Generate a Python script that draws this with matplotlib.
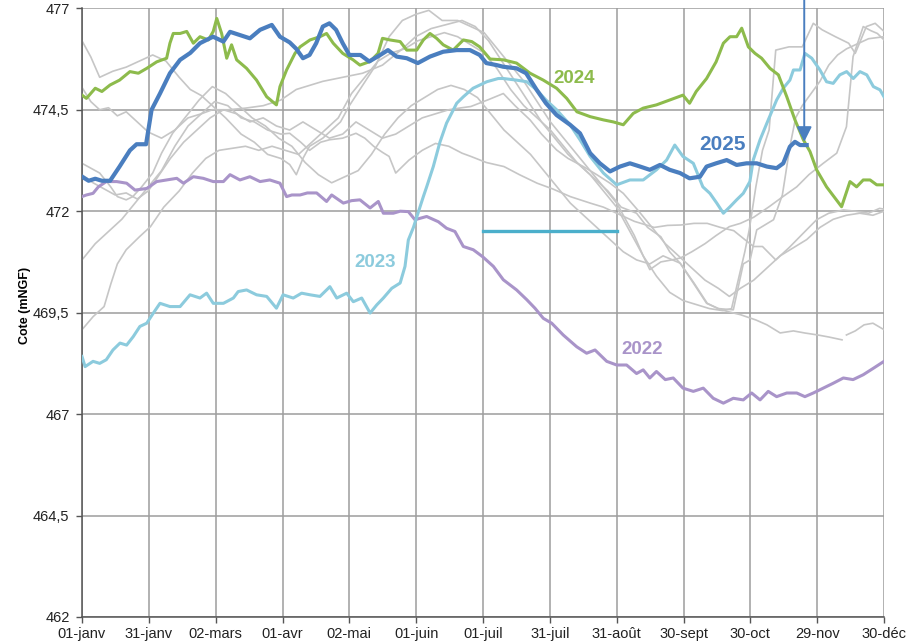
import numpy as np
import matplotlib
matplotlib.use("Agg")
import matplotlib.pyplot as plt

plt.rcParams['font.family'] = ['Liberation Sans Narrow', 'Liberation Sans', 'DejaVu Sans']

# axis ticks
x_ticks = np.linspace(0, 363, 13)
x_labels = ["01-janv", "31-janv", "02-mars", "01-avr", "02-mai", "01-juin", "01-juil",
            "31-juil", "31-août", "30-sept", "30-oct", "29-nov", "30-déc"]
y_ticks = [462, 464.5, 467, 469.5, 472, 474.5, 477]
y_labels = ["462", "464,5", "467", "469,5", "472", "474,5", "477"]

# (jour de l'année, cote)
y2025 = [(0, 472.85), (3, 472.75), (6, 472.8), (9, 472.75), (12.7, 472.75), (17, 473.1), (21.7, 473.5),
         (24.7, 473.65), (29, 473.65), (31.5, 474.5), (35.3, 474.9), (39.8, 475.4), (44.4, 475.73),
         (49, 475.9), (53.4, 476.14), (59.3, 476.3), (64, 476.18), (67, 476.42), (71.5, 476.34),
         (76, 476.26), (80.6, 476.47), (85.9, 476.59), (89.6, 476.3), (94, 476.16), (97, 476.0),
         (100, 475.77), (103, 475.85), (106, 476.14), (109, 476.55), (112, 476.63), (115, 476.47),
         (118, 476.14), (121, 475.85), (126, 475.85), (130, 475.69), (135, 475.85), (138.5, 475.97),
         (142.4, 475.81), (147, 475.77), (152, 475.65), (157.5, 475.81), (163.5, 475.93), (169.6, 475.97),
         (175.6, 475.97), (180, 475.85), (183, 475.65), (187.7, 475.6), (190.6, 475.56), (196.7, 475.52),
         (201, 475.4), (205.8, 474.99), (210, 474.66), (214.8, 474.37), (220.9, 474.13), (225.4, 473.92),
         (230, 473.43), (234.4, 473.18), (239, 472.98), (243.5, 473.1), (248, 473.18), (252.6, 473.1),
         (257, 473.02), (261.6, 473.14), (266, 473.02), (270.7, 472.94), (275, 472.81), (279.7, 472.85),
         (282.7, 473.1), (287, 473.18), (291.8, 473.26), (296.3, 473.14), (300.8, 473.18), (305.4, 473.18),
         (310, 473.1), (314.4, 473.06), (317.4, 473.18), (320.4, 473.59), (322.7, 473.71), (325, 473.63),
         (328, 473.63)]

y2024 = [(0, 474.86), (2, 474.78), (6, 475.03), (9, 474.95), (12.7, 475.11), (17, 475.23), (21.7, 475.44),
         (25.5, 475.4), (29.3, 475.52), (33.8, 475.68), (38.3, 475.77), (39.8, 476.14), (41.3, 476.38),
         (44.4, 476.38), (47.4, 476.43), (50.4, 476.14), (53.4, 476.3), (57.2, 476.22), (59.4, 476.43),
         (61, 476.75), (63.2, 476.38), (65.5, 475.77), (67.7, 476.1), (70, 475.73), (74.5, 475.52),
         (79, 475.23), (83.6, 474.82), (88, 474.62), (89.6, 475.07), (92.6, 475.48), (96.4, 475.89),
         (98.7, 476.05), (103.2, 476.22), (107.7, 476.3), (110.7, 476.38), (113.7, 476.14), (118, 475.89),
         (122.7, 475.73), (125.8, 475.6), (130.4, 475.69), (134, 475.89), (136, 476.26), (139.4, 476.22),
         (144, 476.18), (147, 475.97), (151.5, 475.97), (154.5, 476.22), (157.5, 476.38), (160.5, 476.26),
         (163.5, 476.1), (168, 475.97), (172.6, 476.22), (176.4, 476.18), (180, 476.05), (184.7, 475.75),
         (190.7, 475.73), (196.7, 475.65), (202.8, 475.4), (208.8, 475.23), (214.8, 475.03), (219.4, 474.78),
         (224, 474.45), (230, 474.33), (236, 474.25), (240.5, 474.2), (245, 474.13), (249.5, 474.41),
         (254, 474.54), (260, 474.62), (266, 474.74), (272, 474.86), (275, 474.66), (278, 474.95),
         (282.7, 475.27), (287, 475.68), (290.3, 476.14), (293.3, 476.3), (296.3, 476.3), (298.6, 476.51),
         (301.6, 476.05), (304.6, 475.89), (307.6, 475.77), (311.4, 475.52), (315.2, 475.36), (319, 474.82),
         (322.7, 474.25), (326.5, 473.76), (329.5, 473.47), (332.5, 473.02), (337, 472.6), (343.8, 472.11),
         (347.6, 472.73), (350.6, 472.6), (353.6, 472.77), (356.7, 472.77), (359.7, 472.65), (363, 472.65)]

y2023 = [(0, 468.42), (1.4, 468.17), (5, 468.3), (8, 468.25), (11, 468.34), (14, 468.58), (17.2, 468.75),
         (20.2, 468.7), (23.2, 468.91), (26.2, 469.16), (29.3, 469.24), (32.3, 469.49), (35.3, 469.73),
         (39.8, 469.65), (44.4, 469.65), (48.9, 469.94), (53.4, 469.86), (56.4, 469.98), (59.4, 469.73),
         (64, 469.73), (68.5, 469.86), (70.7, 470.02), (74.5, 470.06), (79, 469.94), (83.6, 469.9),
         (88, 469.61), (91, 469.94), (95.6, 469.86), (99.4, 469.98), (103.2, 469.94), (107.7, 469.9),
         (112.2, 470.14), (115.3, 469.86), (119.8, 469.98), (122.8, 469.77), (126.6, 469.86), (130.4, 469.49),
         (133.4, 469.69), (136.4, 469.86), (140.2, 470.1), (144, 470.23), (146.2, 470.64), (147.7, 471.29),
         (150, 471.6), (154.5, 472.36), (156, 472.6), (159, 473.1), (162, 473.7), (165, 474.17),
         (169.6, 474.66), (172.6, 474.82), (177, 475.03), (183.2, 475.19), (188.4, 475.27), (190.7, 475.27),
         (196.7, 475.23), (201.3, 475.19), (205.8, 474.99), (210, 474.74), (214.8, 474.5), (220.9, 474.13),
         (225.4, 473.76), (230, 473.35), (236, 472.94), (242, 472.65), (248, 472.77), (254, 472.77),
         (260, 473.02), (264.6, 473.26), (268.3, 473.63), (272, 473.35), (276.7, 473.18), (278.5, 472.94),
         (281, 472.6), (284.2, 472.44), (287.3, 472.2), (290.3, 471.95), (293.3, 472.11), (296.3, 472.28),
         (299.3, 472.44), (302.3, 472.73), (303.8, 473.26), (306.9, 473.76), (310, 474.17), (314.4, 474.74),
         (317.4, 475.03), (320.4, 475.23), (322, 475.48), (325, 475.48), (327.2, 475.89), (330.3, 475.77),
         (334, 475.48), (337, 475.19), (340, 475.15), (343, 475.36), (346.1, 475.44), (349.1, 475.27),
         (352.1, 475.44), (355.2, 475.36), (358.2, 475.07), (361.2, 474.99), (363, 474.82)]

y2022 = [(0, 472.36), (2, 472.4), (5, 472.44), (7.4, 472.6), (11, 472.73), (15.7, 472.73), (20.2, 472.69),
         (24, 472.52), (29.3, 472.56), (33.8, 472.73), (38.3, 472.77), (42.9, 472.81), (45.9, 472.69),
         (50.4, 472.85), (54.9, 472.81), (59.4, 472.73), (64, 472.73), (67, 472.9), (71.5, 472.77),
         (76, 472.85), (80.6, 472.73), (85, 472.77), (89.6, 472.69), (92.6, 472.36), (95, 472.4),
         (98.7, 472.4), (102, 472.45), (106.2, 472.45), (110.7, 472.24), (113, 472.4), (118.3, 472.2),
         (122, 472.26), (125.8, 472.28), (130.4, 472.08), (134.1, 472.24), (136.4, 471.95), (140.9, 471.95),
         (144, 472.0), (147.7, 471.99), (150.7, 471.79), (156, 471.87), (161.3, 471.74), (165, 471.58),
         (168.8, 471.5), (172.6, 471.13), (177.1, 471.05), (181.3, 470.88), (186.2, 470.64), (190.7, 470.31),
         (196.7, 470.06), (201.3, 469.82), (205, 469.61), (208.8, 469.36), (212.6, 469.24), (217.8, 468.95),
         (223.9, 468.66), (228.4, 468.5), (232.2, 468.58), (237.5, 468.3), (242, 468.21), (246.5, 468.21),
         (251, 468.0), (254, 468.09), (257, 467.89), (260, 468.05), (264, 467.85), (267.6, 467.89),
         (272, 467.64), (276.7, 467.56), (281.2, 467.64), (285.7, 467.39), (290.3, 467.27), (294.8, 467.39),
         (299.3, 467.35), (303.1, 467.52), (306.9, 467.35), (310.6, 467.56), (314.4, 467.43), (319, 467.52),
         (323.5, 467.52), (327.2, 467.43), (331, 467.52), (335.5, 467.64), (340, 467.76), (344.6, 467.89),
         (349, 467.85), (353.6, 467.97), (358.2, 468.13), (363, 468.3)]

# older years, drawn in grey
g1 = [(0, 476.2), (4, 475.8), (8, 475.3), (14, 475.45), (20, 475.55), (26, 475.7), (32, 475.85), (38, 475.7),
      (44, 475.3), (49, 475.0), (54, 474.85), (59, 474.6), (65, 474.3), (72, 473.9), (78, 473.7), (84, 473.4),
      (90, 473.3), (94, 473.15), (97, 472.9), (100, 473.3), (103, 473.6), (109, 473.8), (113, 474.0),
      (117, 474.2), (121, 474.6), (127, 475.1), (133, 475.6), (139, 476.3), (145, 476.7), (151, 476.85),
      (157, 476.95), (163, 476.7), (170, 476.7), (176, 476.55), (182, 476.4), (188, 476.0), (194, 475.6),
      (200, 475.2), (206, 474.7), (212, 474.2), (218, 473.8), (224, 473.4), (230, 473.0), (236, 472.6),
      (242, 472.2), (246, 471.8), (250, 471.4), (254, 470.9), (257, 470.56), (262, 470.75), (267, 470.8),
      (271, 470.85), (276, 471.0), (282, 471.2), (287, 471.4), (293, 471.62), (298, 471.7), (304, 471.85),
      (311, 472.11), (317, 472.35), (323.5, 472.6), (329, 472.9), (335.5, 473.18), (341.6, 473.43),
      (346, 474.08), (349, 475.81), (353.6, 476.55), (357, 476.45), (360, 476.38), (363, 476.22)]

g2 = [(0, 470.8), (6, 471.2), (12, 471.5), (18, 471.8), (24, 472.2), (30, 472.6), (36, 473.0), (42, 473.6),
      (48, 474.1), (54, 474.4), (60, 474.7), (66, 474.6), (72, 474.3), (78, 474.2), (84, 474.0), (90, 473.9),
      (94, 473.92), (99, 473.7), (103, 473.5), (108, 473.7), (112, 473.76), (118, 473.8), (124, 473.92),
      (128, 473.8), (132, 473.6), (136, 473.45), (139, 473.35), (142, 472.94), (145, 473.1), (148, 473.26),
      (154, 473.5), (160, 473.67), (166, 473.6), (172, 473.43), (176, 473.35), (183, 473.2), (191, 473.1),
      (198, 472.9), (206, 472.69), (213, 472.55), (221, 472.36), (230, 472.2), (236, 472.1), (242, 471.95),
      (250, 471.75), (259, 471.6), (265, 471.65), (271, 471.66), (277, 471.7), (283, 471.7), (289, 471.6),
      (295, 471.52), (300, 471.3), (304, 471.13), (308, 471.13), (314, 470.8), (320, 471.1), (326.5, 471.46),
      (332.5, 471.79), (338, 471.95), (344.6, 472.03), (350, 472.0), (356, 471.95), (361, 472.07), (363, 472.05)]

g3 = [(0, 475.05), (4, 474.7), (8, 474.5), (12, 474.55), (16, 474.35), (20, 474.45), (25, 474.2), (30, 473.95),
      (36, 473.8), (42, 474.0), (48, 474.3), (54, 474.4), (59, 474.5), (66, 474.5), (74, 474.54), (82, 474.6),
      (90, 474.74), (97, 475.0), (103, 475.1), (109, 475.2), (118, 475.3), (127, 475.4), (136, 475.6),
      (145, 476.0), (151, 476.3), (158, 476.5), (165, 476.6), (172, 476.7), (178, 476.55), (184, 476.2),
      (190, 475.7), (196, 475.2), (202, 474.7), (208, 474.2), (214, 473.8), (220, 473.4), (226, 473.1),
      (232, 472.8), (238, 472.5), (244, 472.1), (251, 471.95), (256, 471.6), (262, 471.37), (266, 471.0),
      (271, 470.7), (277, 470.23), (283, 469.73), (288, 469.6), (292, 469.53), (298, 469.45), (305, 469.32),
      (310, 469.2), (316, 469.0), (322, 469.05), (327, 469.0), (333, 468.95), (338, 468.9), (344, 468.83),
      (345, np.nan), (346, 468.95), (350, 469.05), (354, 469.2), (358, 469.24), (363, 469.08)]

g4 = [(0, 469.08), (5, 469.4), (10, 469.65), (13, 470.2), (16, 470.7), (20, 471.05), (26, 471.37), (31, 471.62),
      (37, 472.1), (44, 472.5), (50, 472.94), (56, 473.3), (62, 473.5), (68, 473.55), (74, 473.6), (80, 473.5),
      (86, 473.6), (92, 473.5), (98, 473.4), (104, 473.7), (110, 474.0), (116, 474.3), (122, 474.9),
      (128, 475.3), (134, 475.7), (140, 475.9), (146, 476.0), (152, 476.2), (158, 476.3), (164, 476.4),
      (170, 476.3), (176, 476.1), (182, 475.9), (188, 475.5), (194, 475.0), (200, 474.6), (206, 474.3),
      (212, 474.0), (218, 473.6), (224, 473.2), (230, 472.9), (236, 472.5), (242, 472.1), (248, 471.5),
      (254, 470.9), (260, 470.4), (266, 470.0), (272, 469.8), (278, 469.7), (284, 469.6), (290, 469.55),
      (294, 469.6), (297, 470.3), (300, 471.0), (302, 471.54), (305, 472.6), (308, 473.5), (311, 474.0),
      (314, 475.97), (320, 476.05), (326, 476.05), (331, 476.63), (335, 476.47), (341, 476.3), (347, 476.14),
      (350, 475.89), (355, 476.55), (359, 476.63), (363, 476.43)]

g5 = [(0, 473.18), (8, 472.94), (13, 472.6), (16, 472.36), (20, 472.28), (23, 472.36), (27, 472.6),
      (32, 472.94), (36, 473.43), (41, 473.92), (47, 474.33), (53, 474.74), (59, 475.07), (65, 474.9),
      (71, 474.6), (77, 474.3), (83, 474.1), (89, 473.8), (95, 473.6), (101, 473.2), (107, 472.9),
      (113, 472.7), (119, 472.85), (125, 473.0), (131, 473.4), (137, 473.9), (143, 474.3), (149, 474.6),
      (155, 474.8), (161, 475.0), (167, 475.1), (173, 475.0), (179, 474.8), (185, 474.4), (191, 474.0),
      (197, 473.7), (203, 473.4), (209, 473.0), (215, 472.6), (221, 472.2), (227, 471.9), (233, 471.6),
      (239, 471.3), (245, 471.0), (251, 470.8), (257, 470.7), (263, 470.9), (270.7, 470.72), (276.7, 470.23),
      (282.7, 469.73), (288, 469.6), (294.8, 469.57), (299.3, 470.7), (302.4, 470.8), (305.4, 471.54),
      (313, 471.79), (317, 472.4), (320.4, 473.59), (323, 474.3), (326, 474.6), (330, 474.9), (334, 475.2),
      (338, 475.6), (342, 475.85), (346, 476.0), (350, 476.1), (356, 476.25), (363, 476.3)]

g6 = [(0, 472.9), (5, 472.7), (10, 472.55), (15, 472.4), (20, 472.45), (25, 472.3), (30, 472.5), (35, 472.9),
      (40, 473.3), (46, 473.7), (52, 474.0), (58, 474.3), (64, 474.5), (70, 474.4), (76, 474.2), (82, 474.3),
      (88, 474.1), (94, 474.0), (100, 474.2), (106, 474.0), (112, 473.8), (118, 473.9), (124, 474.2),
      (130, 474.0), (136, 473.8), (142, 473.9), (148, 474.1), (154, 474.3), (160, 474.4), (166, 474.5),
      (172, 474.55), (176, 474.58), (184, 474.75), (190.7, 474.9), (196, 474.6), (202.8, 474.25),
      (208, 473.9), (214.8, 473.51), (220, 473.3), (226.9, 473.1), (233, 472.9), (239, 472.69),
      (245, 472.44), (252, 472.0), (258, 471.6), (264, 471.2), (270, 470.9), (276, 470.6), (282, 470.3),
      (288, 470.1), (293, 469.9), (298, 470.1), (304, 470.3), (310, 470.6), (316, 470.9), (322, 471.1),
      (328, 471.3), (334, 471.6), (340, 471.8), (346, 471.9), (352, 471.95), (358, 471.9), (363, 472.0)]

c_grey = '#c6c6c6'
c_2022 = '#a994c9'
c_2023 = '#8ccbdd'
c_2024 = '#8dbb4c'
c_2025 = '#4a7ebf'
c_bar = '#4bafcb'

fig = plt.figure(figsize=(9.08, 6.41), dpi=100)
ax = fig.add_axes([82 / 908, 24 / 641, 802 / 908, 608.7 / 641])

for g in [g1, g2, g3, g4, g5, g6]:
    d, v = zip(*g)
    ax.plot(d, v, color=c_grey, lw=1.2, zorder=2)

for serie, col, lw in [(y2022, c_2022, 2.2), (y2023, c_2023, 2.2), (y2024, c_2024, 2.2), (y2025, c_2025, 3.0)]:
    d, v = zip(*serie)
    ax.plot(d, v, color=col, lw=lw, zorder=3, solid_joinstyle='round')

# horizontal bar juillet-août
ax.plot([181.5, 242], [471.5, 471.5], color=c_bar, lw=2.4, zorder=3)

# arrow pointing at the latest 2025 value
ax.annotate("", xy=(326.9, 473.71), xytext=(326.9, 477.25), xycoords='data',
            arrowprops=dict(arrowstyle='-|>,head_length=0.9,head_width=0.45', color=c_2025,
                            lw=1.4, mutation_scale=10, shrinkA=0, shrinkB=0),
            annotation_clip=False, zorder=5)

lab_font = ['Liberation Sans', 'DejaVu Sans']
ax.text(222.7, 475.27, "2024", color=c_2024, fontsize=13.5, fontweight='bold', ha='center', va='center', family=lab_font)
ax.text(289.9, 473.65, "2025", color=c_2025, fontsize=15, fontweight='bold', ha='center', va='center', family=lab_font)
ax.text(132.6, 470.74, "2023", color=c_2023, fontsize=13.5, fontweight='bold', ha='center', va='center', family=lab_font)
ax.text(253.5, 468.58, "2022", color=c_2022, fontsize=13.5, fontweight='bold', ha='center', va='center', family=lab_font)

ax.set_xlim(0, 363)
ax.set_ylim(462, 477)
ax.set_xticks(x_ticks)
ax.set_xticklabels(x_labels)
ax.set_yticks(y_ticks)
ax.set_yticklabels(y_labels)
ax.tick_params(axis='both', labelsize=10.5, length=4, width=1, color='#555555', labelcolor='#222222')
ax.tick_params(axis='y', pad=5)
ax.tick_params(axis='x', pad=3)
ax.grid(True, color='#9d9d9d', lw=1.1)
ax.set_axisbelow(True)
for s in ['top', 'right']:
    ax.spines[s].set_visible(False)
for s in ['left', 'bottom']:
    ax.spines[s].set_color('#555555')
    ax.spines[s].set_linewidth(1.1)

fig.text(25 / 908, 1 - 305 / 641, "Cote (mNGF)", rotation=90, fontsize=9, fontweight='bold',
         ha='center', va='center', family=lab_font)

fig.savefig("out.png", dpi=100)
